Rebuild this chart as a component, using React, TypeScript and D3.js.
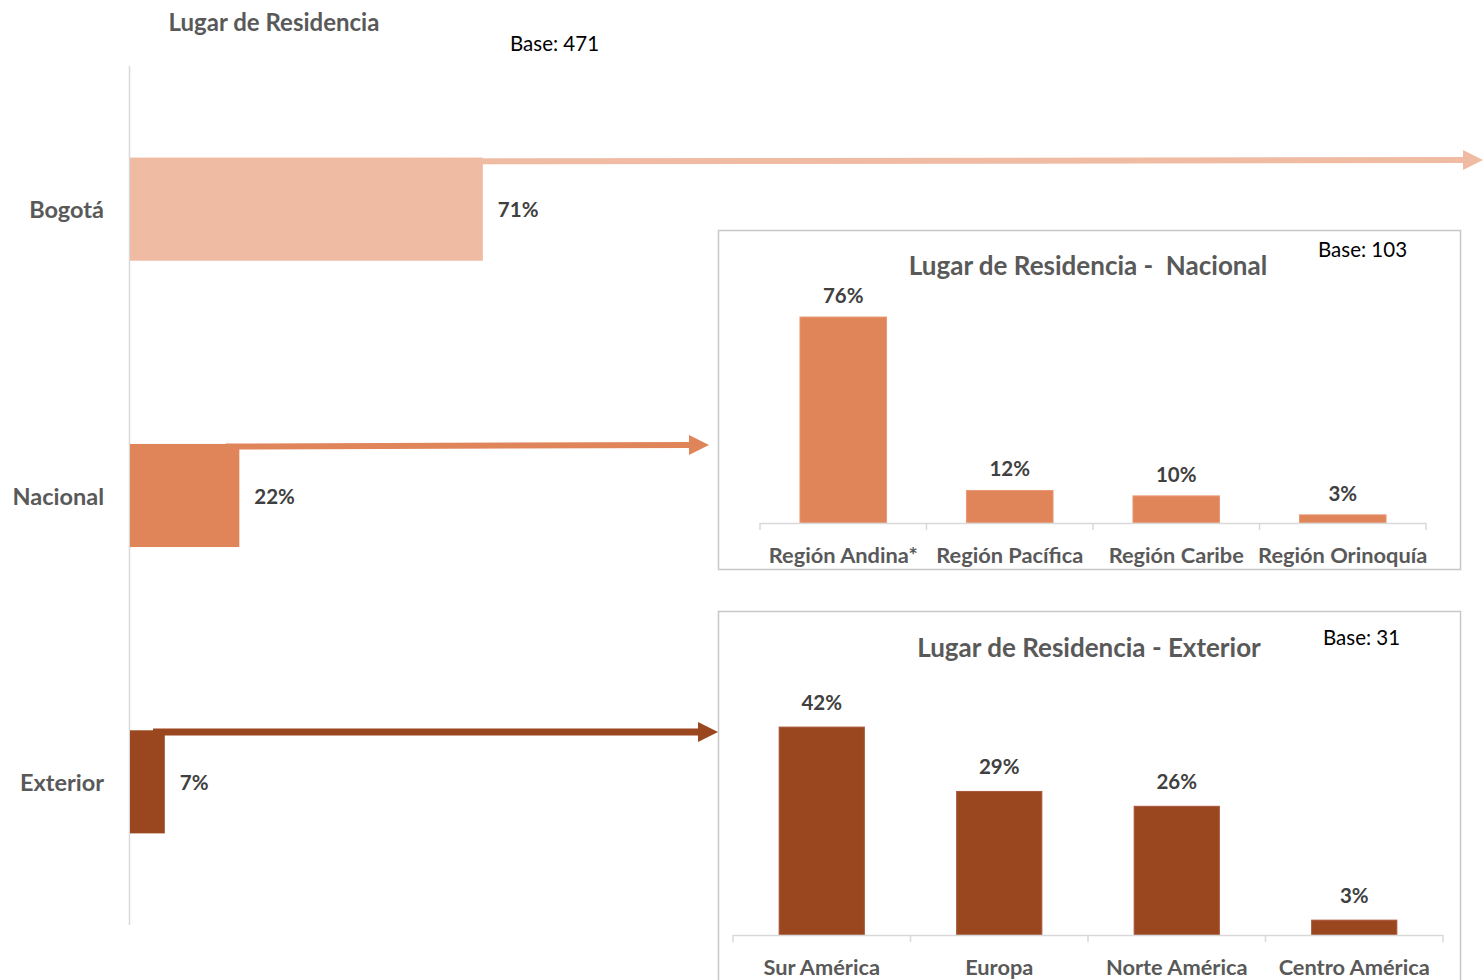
import React from "react";
import * as d3 from "d3";

const mainCategories = ["Bogotá", "Nacional", "Exterior"];
const mainValues = [71, 22, 7];
const mainColors = ["#F0BBA3", "#E0845A", "#9A461E"];

const nacCategories = ["Región Andina*", "Región Pacífica", "Región Caribe", "Región Orinoquía"];
const nacValues = [76, 12, 10, 3];

const extCategories = ["Sur América", "Europa", "Norte América", "Centro América"];
const extValues = [42, 29, 26, 3];

const FONT = "Lato, 'Open Sans', sans-serif";
const W = 1483;
const H = 980;

type PanelProps = {
  x0: number; x1: number; y0: number; y1: number;
  title: string; base: string; titleX: number; titleY: number; baseX: number; baseY: number;
  axisL: number; axisR: number; baseline: number; pxPerPct: number; padding: number;
  cats: string[]; vals: number[]; color: string; stroke: string; labelY: number; valueGap: number;
};

function Panel(p: PanelProps) {
  const xb = d3.scaleBand<string>().domain(p.cats).range([p.axisL, p.axisR]).paddingInner(p.padding).paddingOuter(p.padding / 2);
  const y = d3.scaleLinear().domain([0, 100]).range([p.baseline, p.baseline - p.pxPerPct * 100]);
  const step = (p.axisR - p.axisL) / p.cats.length;
  const ticks = d3.range(p.cats.length + 1).map((i) => p.axisL + i * step);
  return (
    <g>
      <rect x={p.x0 + 0.5} y={p.y0 + 0.5} width={p.x1 - p.x0} height={p.y1 - p.y0} fill="#fff" stroke="#C8C8C8" strokeWidth={1.5} />
      <text x={p.titleX} y={p.titleY} textAnchor="middle" dominantBaseline="central" fontFamily={FONT} fontWeight={700} fontSize={26} fill="#595959" style={{ whiteSpace: "pre" }}>{p.title}</text>
      <text x={p.baseX} y={p.baseY} dominantBaseline="central" fontFamily={FONT} fontSize={20.5} fill="#000">{p.base}</text>
      {p.cats.map((c, i) => (
        <g key={c}>
          <rect x={xb(c)} y={y(p.vals[i])} width={xb.bandwidth()} height={p.baseline - y(p.vals[i])} fill={p.color} stroke={p.stroke} strokeWidth={1} />
          <text x={xb(c)! + xb.bandwidth() / 2} y={y(p.vals[i]) - p.valueGap} textAnchor="middle" dominantBaseline="central" fontFamily={FONT} fontWeight={700} fontSize={20.5} fill="#404040">{p.vals[i]}%</text>
          <text x={xb(c)! + xb.bandwidth() / 2} y={p.labelY} textAnchor="middle" dominantBaseline="central" fontFamily={FONT} fontWeight={700} fontSize={21.8} fill="#595959">{c}</text>
        </g>
      ))}
      <line x1={p.axisL} x2={p.axisR} y1={p.baseline + 0.5} y2={p.baseline + 0.5} stroke="#D9D9D9" strokeWidth={1.5} />
      {ticks.map((t, i) => (
        <line key={i} x1={t} x2={t} y1={p.baseline} y2={p.baseline + 7} stroke="#D9D9D9" strokeWidth={1.5} />
      ))}
    </g>
  );
}

function Arrow({ x1, y1, x2, y2, color, w, head }: { x1: number; y1: number; x2: number; y2: number; color: string; w: number; head: number }) {
  const hx = x2 - head;
  return (
    <g>
      <line x1={x1} y1={y1} x2={hx + 1} y2={y2} stroke={color} strokeWidth={w} />
      <polygon points={`${hx},${y2 - head / 2} ${x2},${y2} ${hx},${y2 + head / 2}`} fill={color} />
    </g>
  );
}

export default function App() {
  const x = d3.scaleLinear().domain([0, 100]).range([130, 627]);
  const yb = d3.scaleBand<string>().domain(mainCategories).range([66, 925]).paddingInner(0.64).paddingOuter(0.32);
  const bh = yb.bandwidth();

  const ends = [
    { x: W, y: 160 },
    { x: 709, y: 445 },
    { x: 718, y: 732 },
  ];
  const starts = [
    { x: 405, y: 161.5 },
    { x: 226, y: 446.5 },
    { x: 153, y: 732 },
  ];

  return (
    <svg width={W} height={H} style={{ position: "absolute", left: 0, top: 0, background: "#fff" }}>
      <rect width={W} height={H} fill="#fff" />
      <text x={274} y={21} textAnchor="middle" dominantBaseline="central" fontFamily={FONT} fontWeight={700} fontSize={24} fill="#595959">Lugar de Residencia</text>
      <text x={510} y={43} dominantBaseline="central" fontFamily={FONT} fontSize={20.5} fill="#000">Base: 471</text>
      <line x1={129.5} x2={129.5} y1={66} y2={925} stroke="#D9D9D9" strokeWidth={1.5} />
      {mainCategories.map((c, i) => (
        <g key={c}>
          <rect x={x(0)} y={yb(c)} width={x(mainValues[i]) - x(0)} height={bh} fill={mainColors[i]} />
          <text x={104} y={yb(c)! + bh / 2} textAnchor="end" dominantBaseline="central" fontFamily={FONT} fontWeight={700} fontSize={23.5} fill="#595959">{c}</text>
          <text x={x(mainValues[i]) + 15} y={yb(c)! + bh / 2} dominantBaseline="central" fontFamily={FONT} fontWeight={700} fontSize={20.5} fill="#404040">{mainValues[i]}%</text>
        </g>
      ))}
      <Panel
        x0={718} x1={1460} y0={230} y1={569}
        title="Lugar de Residencia -  Nacional" base="Base: 103"
        titleX={1088} titleY={265} baseX={1318} baseY={249}
        axisL={760} axisR={1426} baseline={523} pxPerPct={2.71} padding={0.48}
        cats={nacCategories} vals={nacValues} color="#E0845A" stroke="#E99A75" labelY={554} valueGap={22}
      />
      <Panel
        x0={718} x1={1460} y0={611} y1={1000}
        title="Lugar de Residencia - Exterior" base="Base: 31"
        titleX={1089} titleY={647} baseX={1323} baseY={637}
        axisL={733} axisR={1443} baseline={935} pxPerPct={4.95} padding={0.52}
        cats={extCategories} vals={extValues} color="#9A461E" stroke="#A9563A" labelY={966} valueGap={25}
      />
      {mainCategories.map((c, i) => (
        <Arrow key={c} x1={starts[i].x} y1={starts[i].y} x2={ends[i].x} y2={ends[i].y} color={mainColors[i]} w={i === 2 ? 7 : 6} head={20} />
      ))}
    </svg>
  );
}
